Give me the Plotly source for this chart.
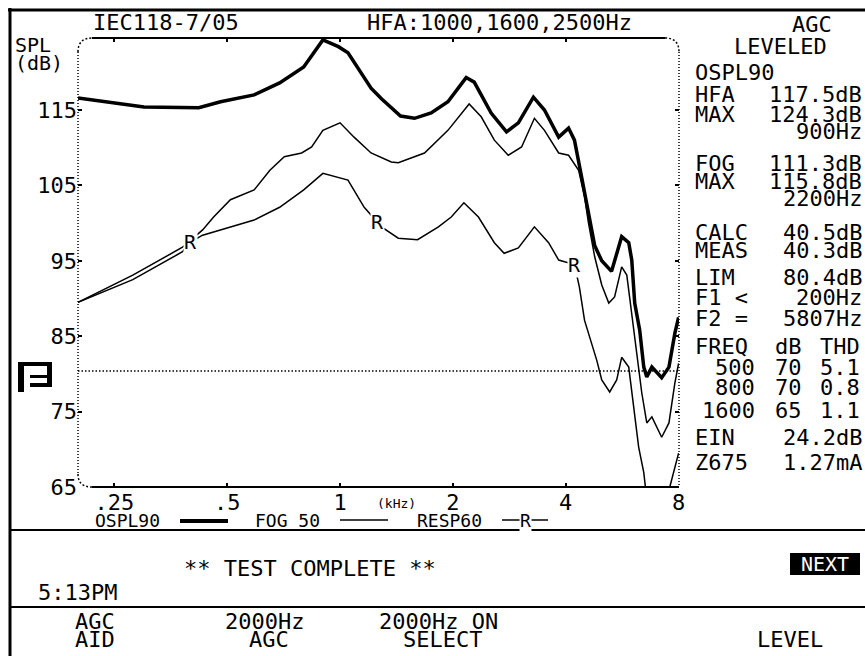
import math
import plotly.graph_objects as go

# OSPL90 curve (Hz, dB SPL)
ospl_freq = [200, 250, 300, 420, 480, 590, 690, 800, 900, 990, 1050, 1210, 1290, 1450, 1580,
             1750, 1940, 2170, 2280, 2530, 2780, 2990, 3280, 3510, 3830, 4070, 4220, 4410, 4600,
             4780, 4990, 5300, 5640, 5890, 6000, 6110, 6300, 6460, 6580, 6790, 7210, 7540, 7820, 8000]
ospl_db = [116.6, 116.0, 115.4, 115.3, 116.1, 117.0, 118.6, 120.7, 124.3, 123.4, 122.6, 117.9, 116.5, 114.2, 113.9,
           114.6, 116.1, 119.3, 118.7, 114.6, 112.1, 113.3, 116.7, 115.0, 111.4, 112.6, 111.0, 106.1, 101.0,
           97.0, 95.0, 93.6, 98.2, 97.4, 95.1, 89.4, 85.8, 80.9, 79.6, 80.9, 79.5, 80.9, 85.4, 87.5]

# FOG 50 curve
fog_freq = [200, 280, 380, 430, 460, 510, 590, 650, 710, 790, 840, 900, 1000, 1090, 1210, 1370,
            1430, 1680, 1940, 2210, 2380, 2580, 2810, 3050, 3300, 3510, 3830, 4070, 4330, 4490,
            4600, 4780, 4990, 5210, 5400, 5640, 5820, 6000, 6190, 6380, 6580, 6790, 7210, 7540, 7820, 8000]
fog_db = [89.5, 93.1, 96.8, 99.1, 100.8, 103.1, 104.4, 107.0, 108.8, 109.3, 110.1, 112.3, 113.3, 111.4, 109.3, 108.1,
          108.0, 109.3, 112.3, 115.8, 114.1, 111.0, 109.0, 110.1, 113.9, 112.3, 109.3, 109.0, 107.0, 103.5,
          100.0, 95.5, 91.8, 89.4, 90.2, 94.2, 93.1, 88.1, 82.8, 77.5, 73.5, 74.3, 71.6, 73.5, 78.8, 81.4]

# RESP60 curve (goes off the bottom of the screen near 7 kHz)
resp_freq = [200, 280, 380, 400, 430, 510, 590, 690, 800, 900, 990, 1050, 1160, 1260, 1290,
             1430, 1610, 1830, 1980, 2140, 2340, 2580, 2740, 2990, 3300, 3600, 3830, 4220, 4350,
             4490, 4690, 4840, 4990, 5240, 5470, 5640, 5890, 6070, 6260, 6460, 6700, 7300, 7580, 8000]
resp_db = [89.5, 92.5, 96.2, 97.5, 98.4, 99.5, 100.4, 102.1, 104.4, 106.6, 106.1, 105.7, 102.1, 100.1, 99.5,
           98.0, 97.8, 99.5, 100.8, 102.7, 100.8, 97.4, 96.0, 96.7, 99.5, 97.4, 95.1, 94.5, 91.5,
           87.1, 84.1, 81.8, 79.2, 77.6, 79.2, 82.2, 80.9, 75.6, 70.3, 66.9, 60.0, 60.0, 65.0, 69.5]
resp_r_idx = [3, 13, 27]  # points where the "R" tag is printed

lim_db = 80.4

x_ticks = [250, 500, 1000, 2000, 4000, 8000]
x_tick_text = ['.25', '.5', '1', '2', '4', '8']
y_ticks = [65, 75, 85, 95, 105, 115]

W, H = 865, 656
L, R, T, B = 78, 186, 38, 169
PW = W - L - R
PH = H - T - B
MONO = 'DejaVu Sans Mono'


def px(x):
    return (x - L) / PW


def py(y):
    return (H - B - y) / PH


fig = go.Figure()
fig.add_trace(go.Scatter(x=resp_freq, y=resp_db, mode='lines',
                         line=dict(color='black', width=1.5), hoverinfo='skip'))
fig.add_trace(go.Scatter(x=fog_freq, y=fog_db, mode='lines',
                         line=dict(color='black', width=1.5), hoverinfo='skip'))
fig.add_trace(go.Scatter(x=ospl_freq, y=ospl_db, mode='lines',
                         line=dict(color='black', width=3.5), hoverinfo='skip'))

fig.update_layout(
    width=W, height=H,
    margin=dict(l=L, r=R, t=T, b=B, pad=0),
    paper_bgcolor='white',
    plot_bgcolor='white',
    showlegend=False,
    font=dict(family=MONO, size=22, color='black'),
    xaxis=dict(
        type='log',
        range=[math.log10(200), math.log10(8020)],
        tickvals=x_ticks, ticktext=x_tick_text,
        ticks='inside', ticklen=4, tickwidth=1.5, tickcolor='black',
        mirror='ticks', showline=False, showgrid=False, zeroline=False,
        tickfont=dict(family=MONO, size=22),
    ),
    yaxis=dict(
        range=[65, 124.55],
        tickvals=y_ticks,
        ticks='inside', ticklen=4, tickwidth=1.5, tickcolor='black',
        mirror='ticks', showline=False, showgrid=False, zeroline=False,
        tickfont=dict(family=MONO, size=22),
    ),
)


def line(x0, y0, x1, y1, width=2, dash=None):
    fig.add_shape(type='line', xref='paper', yref='paper',
                  x0=px(x0), y0=py(y0), x1=px(x1), y1=py(y1),
                  line=dict(color='black', width=width, dash=dash))


def box(x0, y0, x1, y1):
    fig.add_shape(type='rect', xref='paper', yref='paper',
                  x0=px(x0), y0=py(y0), x1=px(x1), y1=py(y1),
                  line=dict(width=0), fillcolor='black')


def corner(x0, y0, cx, cy, x1, y1):
    path = 'M %f,%f Q %f,%f %f,%f' % (px(x0), py(y0), px(cx), py(cy), px(x1), py(y1))
    fig.add_shape(type='path', xref='paper', yref='paper', path=path,
                  line=dict(color='black', width=1.5, dash='2px,2px'))


def text(s, x, y, anchor='left', size=22, color='black', **kw):
    fig.add_annotation(text=s, x=px(x), y=py(y), xref='paper', yref='paper',
                       xanchor=anchor, yanchor='middle', showarrow=False,
                       font=dict(family=MONO, size=size, color=color), **kw)


# screen frame
line(10, 8, 10, 660, width=3)
line(8, 10, 870, 10, width=3)
line(10, 530, 870, 530, width=2)
line(10, 607, 870, 607, width=2)

# plot box: solid top/bottom, dotted sides, rounded corners
line(92, 38, 665, 38, width=2)
line(92, 487, 679, 487, width=2)
line(78, 52, 78, 474, width=1.5, dash='1px,2px')
line(679, 52, 679, 487, width=1.5, dash='1px,2px')
corner(78, 52, 78, 38, 92, 38)
corner(665, 38, 679, 38, 679, 52)
corner(78, 474, 78, 487, 92, 487)

# limit line
fig.add_shape(type='line', xref='paper', yref='y', x0=0, x1=1, y0=lim_db, y1=lim_db,
              line=dict(color='black', width=1.5, dash='1.5px,2px'))

# R tags on the RESP60 curve
for i in resp_r_idx:
    fig.add_annotation(x=math.log10(resp_freq[i]), y=resp_db[i], xref='x', yref='y',
                       text='R', showarrow=False, bgcolor='white', borderpad=0,
                       font=dict(family=MONO, size=20, color='black'))

# header
text('IEC118-7/05', 166, 23, anchor='center')
text('HFA:1000,1600,2500Hz', 499, 23, anchor='center')
text('SPL', 13, 45, size=20)
text('(dB)', 13, 63, size=20)

# limit flag glyph
box(18, 362, 52, 366)
box(18, 362, 24, 392)
box(47, 362, 52, 387)
box(30, 375, 52, 378)
box(30, 383, 52, 387)

# axis unit and legend
text('(kHz)', 396, 503, anchor='center', size=13)
text('OSPL90', 93, 520, size=18)
line(180, 521, 228, 521, width=4)
text('FOG 50', 253, 520, size=18)
line(340, 520, 388, 520, width=1.5)
text('RESP60', 415, 520, size=18)
line(502, 520, 548, 520, width=1.5)
text('R', 525, 520, anchor='center', size=18, bgcolor='white', borderpad=0)

# right panel
text('AGC', 812, 24, anchor='center')
text('LEVELED', 780, 47, anchor='center')
text('OSPL90', 693, 72)
panel = [
    ('HFA', '117.5dB', 94),
    ('MAX', '124.3dB', 115),
    ('', '900Hz', 131),
    ('FOG', '111.3dB', 163),
    ('MAX', '115.8dB', 182),
    ('', '2200Hz', 199),
    ('CALC', '40.5dB', 232),
    ('MEAS', '40.3dB', 250),
    ('LIM', '80.4dB', 277),
    ('F1 <', '200Hz', 298),
    ('F2 =', '5807Hz', 318),
    ('EIN', '24.2dB', 437),
    ('Z675', '1.27mA', 462),
]
for label, value, y in panel:
    if label:
        text(label, 693, y)
    text(value, 864, y, anchor='right')

text('FREQ', 693, 346)
text('dB', 773, 346)
text('THD', 818, 346)
thd_rows = [('500', '70', '5.1', 367), ('800', '70', '0.8', 387), ('1600', '65', '1.1', 410)]
for f, db, thd, y in thd_rows:
    text(f, 757, y, anchor='right')
    text(db, 773, y)
    text(thd, 818, y)

# status and soft keys
text('** TEST COMPLETE **', 310, 568, anchor='center')
text('5:13PM', 77, 592, anchor='center')
box(790, 553, 860, 575)
text('NEXT', 825, 564, anchor='center', size=20, color='white')
text('AGC', 95, 621, anchor='center')
text('AID', 95, 639, anchor='center')
text('2000Hz', 264, 621, anchor='center')
text('AGC', 269, 639, anchor='center')
text('2000Hz ON', 438, 621, anchor='center')
text('SELECT', 442, 639, anchor='center')
text('LEVEL', 790, 639, anchor='center')

fig.write_html("out.html", config={'displayModeBar': False},
               post_script="document.body.style.margin='0';")
